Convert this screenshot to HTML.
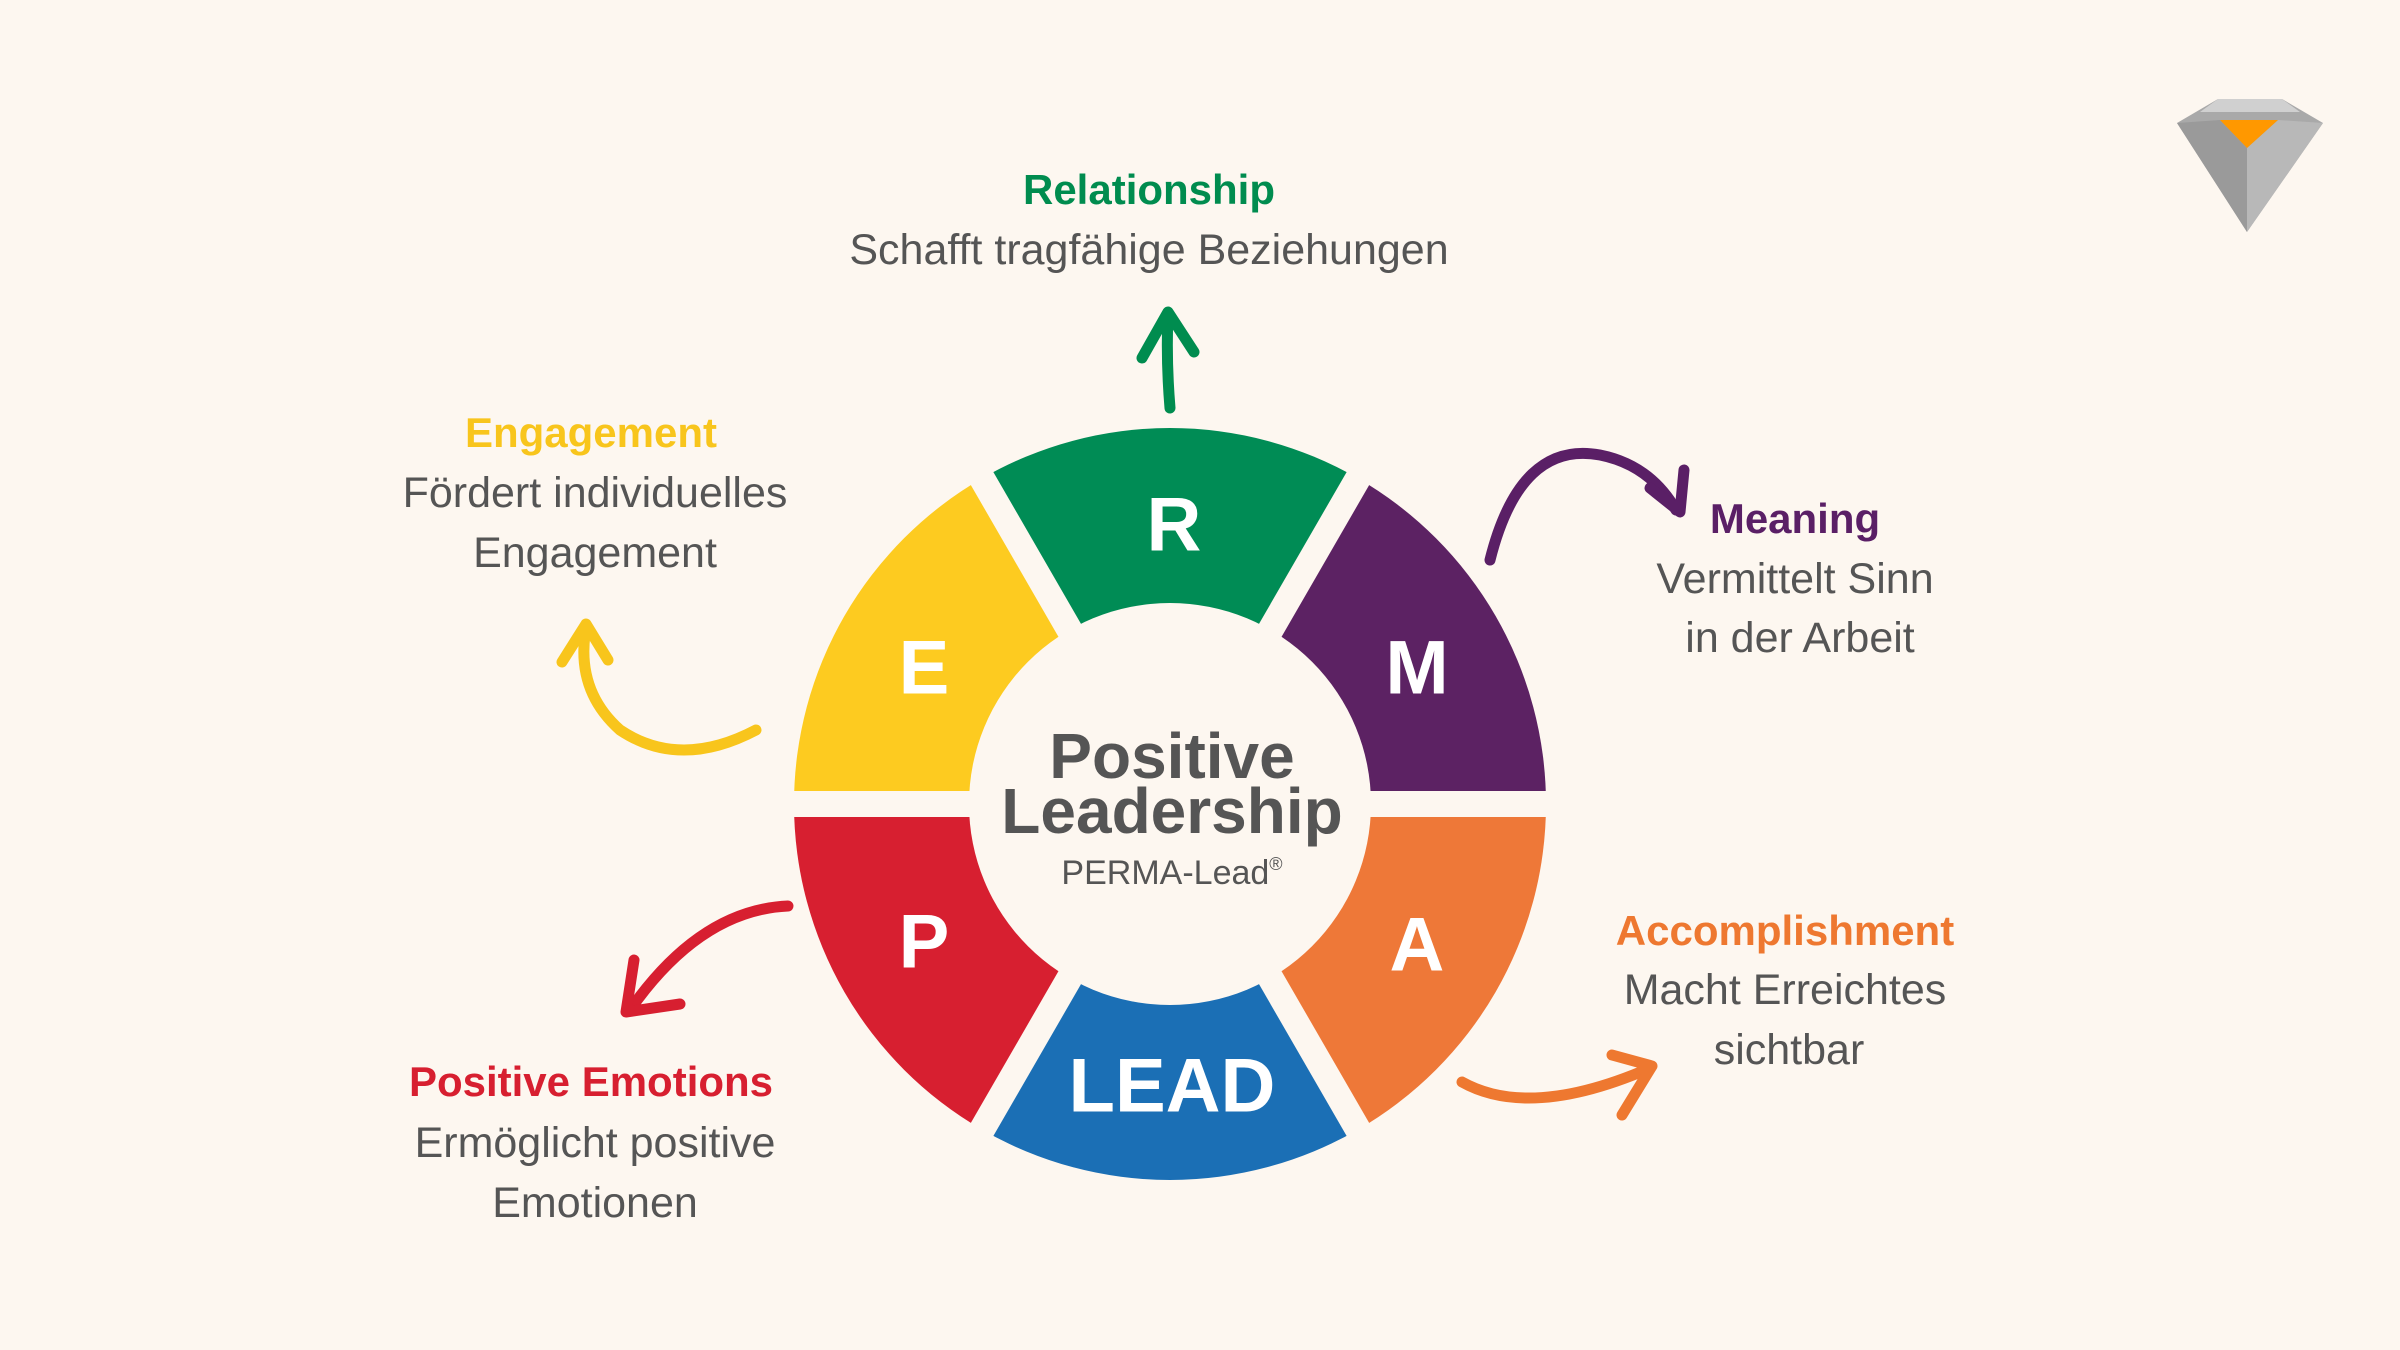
<!DOCTYPE html>
<html><head><meta charset="utf-8"><style>
html,body{margin:0;padding:0;background:#FDF7F0;}
svg{display:block}
text{font-family:"Liberation Sans",sans-serif;}
.h{font-weight:bold;font-size:42px;text-anchor:middle}
.d{fill:#555;font-size:43px;text-anchor:middle}
.L{fill:#fff;font-weight:bold;font-size:76px;text-anchor:middle;dominant-baseline:central}
</style></head><body>
<svg width="2400" height="1350" viewBox="0 0 2400 1350">
<rect width="2400" height="1350" fill="#FDF7F0"/>
<path d="M1170,804 L982,478.4 A376,376 0 0 1 1358,478.4 Z" fill="#008C55"/>
<path d="M1170,804 L1358,478.4 A376,376 0 0 1 1546,804 Z" fill="#5C2263"/>
<path d="M1170,804 L1546,804 A376,376 0 0 1 1358,1129.6 Z" fill="#EE7838"/>
<path d="M1170,804 L1358,1129.6 A376,376 0 0 1 982,1129.6 Z" fill="#1B6FB5"/>
<path d="M1170,804 L982,1129.6 A376,376 0 0 1 794,804 Z" fill="#D71F30"/>
<path d="M1170,804 L794,804 A376,376 0 0 1 982,478.4 Z" fill="#FDCB20"/>
<g stroke="#FDF7F0" stroke-width="26">
<line x1="770" y1="804" x2="1570" y2="804"/>
<line x1="970" y1="457.6" x2="1370" y2="1150.4"/>
<line x1="1370" y1="457.6" x2="970" y2="1150.4"/>
</g>
<circle cx="1170" cy="804" r="201" fill="#FDF7F0"/>
<text class="L" x="1174" y="525">R</text>
<text class="L" x="924" y="668">E</text>
<text class="L" x="1417" y="668">M</text>
<text class="L" x="924" y="942">P</text>
<text class="L" x="1417" y="945">A</text>
<text class="L" x="1172" y="1086">LEAD</text>
<g fill="#555" text-anchor="middle" font-weight="bold" font-size="64">
<text x="1172" y="778">Positive</text>
<text x="1172" y="833">Leadership</text>
</g>
<text x="1172" y="884" fill="#555" font-size="34" text-anchor="middle" style="font-family:'Liberation Sans Narrow','Liberation Sans',sans-serif">PERMA-Lead<tspan font-size="18" dy="-14">®</tspan></text>
<text class="h" x="1149" y="204" fill="#008C4F">Relationship</text>
<text class="d" x="1149" y="264">Schafft tragfähige Beziehungen</text>
<text class="h" x="591" y="447" fill="#F8C51C">Engagement</text>
<text class="d" x="595" y="507">Fördert individuelles</text>
<text class="d" x="595" y="567">Engagement</text>
<text class="h" x="1795" y="533" fill="#5A1F66">Meaning</text>
<text class="d" x="1795" y="593">Vermittelt Sinn</text>
<text class="d" x="1800" y="652">in der Arbeit</text>
<text class="h" x="1785" y="945" fill="#EE7830">Accomplishment</text>
<text class="d" x="1785" y="1004">Macht Erreichtes</text>
<text class="d" x="1789" y="1064">sichtbar</text>
<text class="h" x="591" y="1096" fill="#D71F30">Positive Emotions</text>
<text class="d" x="595" y="1157">Ermöglicht positive</text>
<text class="d" x="595" y="1217">Emotionen</text>
<g fill="none" stroke-linecap="round" stroke-linejoin="round" stroke-width="11">
<path d="M1170,408 Q1166,360 1168,314" stroke="#008C4F"/>
<path d="M1142,358 L1168,312 L1194,352" stroke="#008C4F"/>
<path d="M1490,560 Q1520,440 1600,455 Q1650,465 1676,510" stroke="#5A1F66"/>
<path d="M1650,488 L1680,512 L1684,470" stroke="#5A1F66"/>
<path d="M1462,1082 Q1530,1120 1650,1068" stroke="#EE7830"/>
<path d="M1612,1055 L1652,1066 L1622,1115" stroke="#EE7830"/>
<path d="M756,730 Q680,770 620,730 Q575,690 586,628" stroke="#F8C51C"/>
<path d="M562,662 L586,624 L608,660" stroke="#F8C51C"/>
<path d="M788,906 Q700,910 630,1010" stroke="#D71F30"/>
<path d="M634,960 L626,1012 L680,1004" stroke="#D71F30"/>
</g>
<polygon points="2218,99 2282,99 2323,123 2247,232 2177,123" fill="#A9A9A9"/>
<polygon points="2218,99 2282,99 2300,112 2200,112" fill="#D0D0D0"/>
<polygon points="2177,123 2220,120 2247,148 2247,232" fill="#9A9A9A"/>
<polygon points="2323,123 2278,120 2247,148 2247,232" fill="#B8B8B8"/>
<polygon points="2220,120 2278,120 2247,148" fill="#FF9800"/>
</svg>
</body></html>
